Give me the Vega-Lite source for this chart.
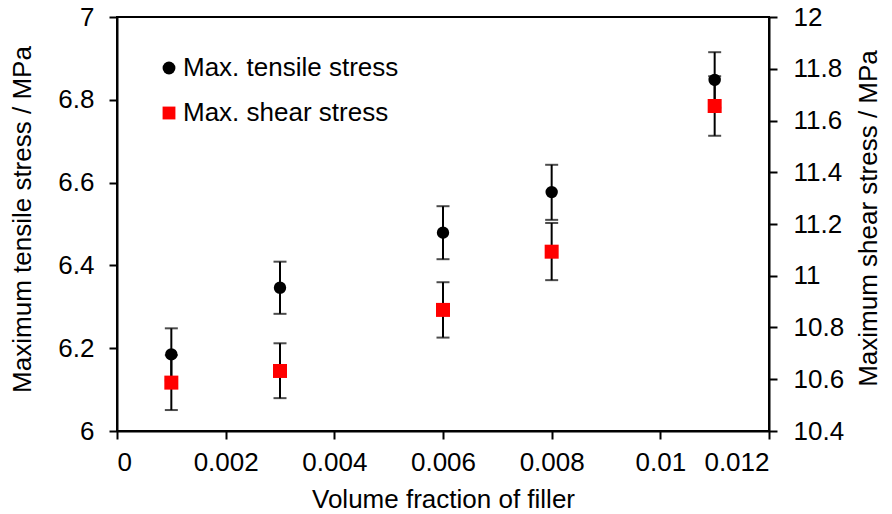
{
  "$schema": "https://vega.github.io/schema/vega-lite/v6.json",
  "autosize": {"type": "none"},
  "padding": {"left": 117, "top": 17, "right": 123, "bottom": 83},
  "width": 652,
  "height": 414,
  "background": "white",
  "datasets": {
    "tensile": [
      {"x": 0.001, "series": "Max. tensile stress", "value": 6.185, "lo": 6.122, "hi": 6.248},
      {"x": 0.003, "series": "Max. tensile stress", "value": 6.346, "lo": 6.283, "hi": 6.409},
      {"x": 0.006, "series": "Max. tensile stress", "value": 6.479, "lo": 6.415, "hi": 6.543},
      {"x": 0.008, "series": "Max. tensile stress", "value": 6.577, "lo": 6.510, "hi": 6.643},
      {"x": 0.011, "series": "Max. tensile stress", "value": 6.848, "lo": 6.781, "hi": 6.915}
    ],
    "shear": [
      {"x": 0.001, "series": "Max. shear stress", "value": 10.587, "lo": 10.481, "hi": 10.693},
      {"x": 0.003, "series": "Max. shear stress", "value": 10.632, "lo": 10.527, "hi": 10.739},
      {"x": 0.006, "series": "Max. shear stress", "value": 10.868, "lo": 10.761, "hi": 10.975},
      {"x": 0.008, "series": "Max. shear stress", "value": 11.093, "lo": 10.983, "hi": 11.204},
      {"x": 0.011, "series": "Max. shear stress", "value": 11.656, "lo": 11.541, "hi": 11.771}
    ]
  },
  "layer": [
    {
      "data": {"name": "tensile"},
      "encoding": {
        "x": {
          "field": "x", "type": "quantitative",
          "scale": {"domain": [0, 0.012], "nice": false, "zero": false},
          "axis": {
            "title": "Volume fraction of filler",
            "values": [0, 0.002, 0.004, 0.006, 0.008, 0.01, 0.012],
            "format": "~g",
            "labelPadding": 10,
            "titleY": 68, "titleBaseline": "middle"
          }
        }
      },
      "layer": [
        {
          "mark": {"type": "rule", "color": "black", "strokeWidth": 2},
          "encoding": {
            "y": {"field": "lo", "type": "quantitative", "scale": {"domain": [6, 7], "nice": false, "zero": false},
              "axis": {
                "title": "Maximum tensile stress / MPa",
                "orient": "left",
                "values": [6, 6.2, 6.4, 6.6, 6.8, 7],
                "format": "~g",
                "labelPadding": 15,
                "titleX": -95, "titleY": 202, "titleAngle": -90,
                "titleBaseline": "middle", "titleAlign": "center"
              }},
            "y2": {"field": "hi"}
          }
        },
        {
          "mark": {"type": "tick", "orient": "horizontal", "color": "black", "thickness": 2, "size": 13},
          "encoding": {"y": {"field": "hi", "type": "quantitative"}}
        },
        {
          "mark": {"type": "tick", "orient": "horizontal", "color": "black", "thickness": 2, "size": 13},
          "encoding": {"y": {"field": "lo", "type": "quantitative"}}
        },
        {
          "mark": {"type": "point", "filled": true, "opacity": 1, "size": 154, "strokeWidth": 0},
          "encoding": {
            "y": {"field": "value", "type": "quantitative"},
            "color": {"field": "series", "type": "nominal",
              "scale": {"domain": ["Max. tensile stress", "Max. shear stress"], "range": ["black", "#ff0000"]},
              "legend": {
                "orient": "none", "legendX": 39, "legendY": 38, "title": null,
                "direction": "vertical", "symbolSize": 165, "labelFontSize": 26,
                "labelFont": "Liberation Sans", "labelColor": "black", "rowPadding": 19,
                "labelOffset": 1, "symbolStrokeWidth": 0, "symbolOpacity": 1, "labelLimit": 400
              }},
            "shape": {"field": "series", "type": "nominal",
              "scale": {"domain": ["Max. tensile stress", "Max. shear stress"], "range": ["circle", "square"]}}
          }
        }
      ]
    },
    {
      "data": {"name": "shear"},
      "encoding": {
        "x": {"field": "x", "type": "quantitative"}
      },
      "layer": [
        {
          "mark": {"type": "rule", "color": "black", "strokeWidth": 2},
          "encoding": {
            "y": {"field": "lo", "type": "quantitative", "scale": {"domain": [10.4, 12], "nice": false, "zero": false},
              "axis": {
                "title": "Maximum shear stress / MPa",
                "orient": "right",
                "values": [10.4, 10.6, 10.8, 11, 11.2, 11.4, 11.6, 11.8, 12],
                "format": "~g",
                "labelPadding": 16,
                "titleX": 99, "titleY": 201, "titleAngle": -90,
                "titleBaseline": "middle", "titleAlign": "center"
              }},
            "y2": {"field": "hi"}
          }
        },
        {
          "mark": {"type": "tick", "orient": "horizontal", "color": "black", "thickness": 2, "size": 13},
          "encoding": {"y": {"field": "hi", "type": "quantitative"}}
        },
        {
          "mark": {"type": "tick", "orient": "horizontal", "color": "black", "thickness": 2, "size": 13},
          "encoding": {"y": {"field": "lo", "type": "quantitative"}}
        },
        {
          "mark": {"type": "point", "filled": true, "opacity": 1, "size": 196, "strokeWidth": 0},
          "encoding": {
            "y": {"field": "value", "type": "quantitative"},
            "color": {"field": "series", "type": "nominal"},
            "shape": {"field": "series", "type": "nominal"}
          }
        }
      ]
    }
  ],
  "resolve": {"scale": {"y": "independent"}},
  "config": {
    "view": {"stroke": "black", "strokeWidth": 2},
    "font": "Liberation Sans",
    "axis": {
      "grid": false,
      "domainColor": "black",
      "domainWidth": 2,
      "tickColor": "black",
      "tickWidth": 2,
      "tickSize": 8,
      "labelFont": "Liberation Sans",
      "labelFontSize": 26,
      "labelColor": "black",
      "titleFont": "Liberation Sans",
      "titleFontSize": 26,
      "titleFontWeight": "normal",
      "titleColor": "black"
    }
  }
}
